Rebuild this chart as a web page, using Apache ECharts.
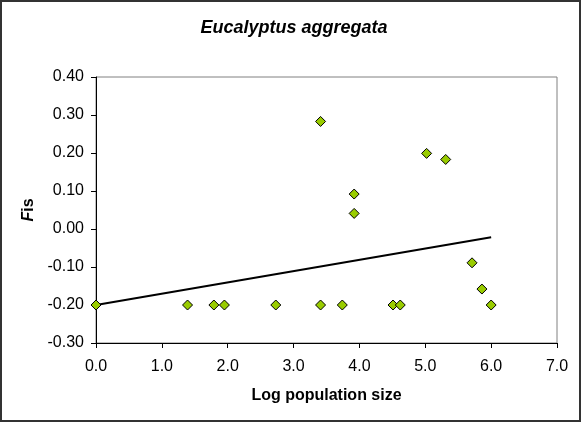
<!DOCTYPE html>
<html>
<head>
<meta charset="utf-8">
<script src="https://cdn.jsdelivr.net/npm/echarts@6/dist/echarts.min.js"></script>
<style>
html,body{margin:0;padding:0;background:#fff;}
#chart{width:582px;height:424px;}
</style>
</head>
<body>
<div id="chart"></div>
<script>
var titleText = 'Eucalyptus aggregata';
var xName = 'Log population size';
var logSize = [0.00, 1.39, 1.79, 1.95, 2.73, 3.41, 3.41, 3.74, 3.92, 3.92, 4.51, 4.62, 5.02, 5.31, 5.71, 5.86, 6.00];
var fis     = [-0.20, -0.20, -0.20, -0.20, -0.20, -0.20, 0.283, -0.20, 0.092, 0.041, -0.20, -0.20, 0.199, 0.183, -0.089, -0.158, -0.20];
var trendX = [0.0, 6.0];
var trendY = [-0.200, -0.022];

var points = logSize.map(function (x, i) { return [x, fis[i]]; });
var trend = trendX.map(function (x, i) { return [x, trendY[i]]; });

var chart = echarts.init(document.getElementById('chart'), null, {renderer: 'canvas'});
var font = '"Liberation Sans", Arial, sans-serif';
chart.setOption({
  animation: false,
  backgroundColor: '#ffffff',
  title: {
    text: titleText,
    left: 289, top: 14, textAlign: 'center',
    textStyle: {fontFamily: font, fontSize: 18, fontWeight: 'bold', fontStyle: 'italic', color: '#000'}
  },
  graphic: [{
    type: 'rect', shape: {x: 1, y: 1, width: 579, height: 420},
    style: {fill: 'none', stroke: '#333', lineWidth: 2}, silent: true, z: 100
  }],
  grid: {left: 96, right: 25, top: 77, bottom: 81, containLabel: false, outerBoundsMode: 'none',
    show: true, borderColor: '#808080', borderWidth: 1, backgroundColor: '#fff'},
  xAxis: {
    type: 'value', min: 0, max: 7, interval: 1,
    name: xName, nameLocation: 'middle', nameGap: 45,
    nameTextStyle: {fontFamily: font, fontSize: 16, fontWeight: 'bold', color: '#000'},
    axisLine: {show: true, onZero: false, lineStyle: {color: '#000', width: 1}},
    axisTick: {show: true, length: 5, lineStyle: {color: '#000'}},
    axisLabel: {fontFamily: font, fontSize: 16, color: '#000', margin: 16,
      formatter: function (v) { return v.toFixed(1); }},
    splitLine: {show: false}
  },
  yAxis: {
    type: 'value', min: -0.3, max: 0.4, interval: 0.1,
    name: '{f|F}{b|is}', nameLocation: 'middle', nameGap: 55, nameRotate: 90,
    nameTextStyle: {fontFamily: font, fontSize: 16, fontWeight: 'bold', color: '#000',
      rich: {f: {fontFamily: font, fontSize: 16, fontWeight: 'bold', fontStyle: 'italic', color: '#000'},
             b: {fontFamily: font, fontSize: 16, fontWeight: 'bold', color: '#000'}}},
    axisLine: {show: true, onZero: false, lineStyle: {color: '#000', width: 1}},
    axisTick: {show: true, length: 5, lineStyle: {color: '#000'}},
    axisLabel: {fontFamily: font, fontSize: 16, color: '#000', margin: 12,
      formatter: function (v) { return v.toFixed(2); }},
    splitLine: {show: false}
  },
  series: [{
    type: 'line', data: trend, symbol: 'none', showSymbol: false,
    lineStyle: {color: '#000', width: 2}, z: 2, silent: true
  }, {
    type: 'scatter', data: points, symbol: 'diamond', symbolSize: 10,
    itemStyle: {color: '#99cc00', borderColor: '#000', borderWidth: 1, opacity: 1}, z: 3
  }]
});
</script>
</body>
</html>
